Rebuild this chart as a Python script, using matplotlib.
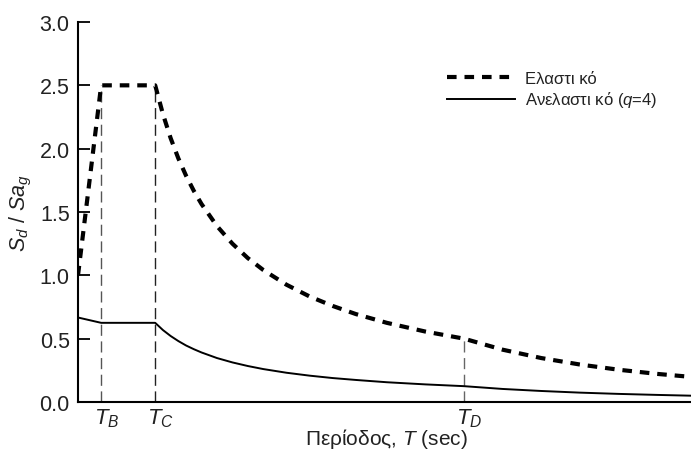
import matplotlib
matplotlib.use('Agg')
import matplotlib.pyplot as plt

# --- data (period in sec, spectral ratio) ---
T_elastic = [0.0, 0.15, 0.5, 0.55, 0.6, 0.65, 0.7, 0.75, 0.8, 0.9, 1.0, 1.1, 1.2,
             1.35, 1.5, 1.65, 1.8, 2.0, 2.25, 2.5, 2.75, 3.0, 3.25, 3.5, 3.75, 4.0]
sd_elastic = [1.0, 2.5, 2.5, 2.273, 2.083, 1.923, 1.786, 1.667, 1.563, 1.389, 1.25,
              1.136, 1.042, 0.926, 0.833, 0.758, 0.694, 0.625, 0.556, 0.5, 0.413,
              0.347, 0.296, 0.255, 0.222, 0.195]

T_inelastic = T_elastic
sd_inelastic = [0.667, 0.625, 0.625, 0.568, 0.521, 0.481, 0.446, 0.417, 0.391, 0.347,
                0.3125, 0.284, 0.260, 0.231, 0.208, 0.189, 0.174, 0.156, 0.139, 0.125,
                0.103, 0.087, 0.074, 0.064, 0.056, 0.049]

# characteristic periods and the heights of their guide lines
T_marks = [0.15, 0.5, 2.5]
mark_tops = [2.5, 2.5, 0.5]
mark_labels = [r'$T_B$', r'$T_C$', r'$T_D$']
mark_colors = ['#555555', '#222222', '#666666']

y_ticks = [0.0, 0.5, 1.0, 1.5, 2.0, 2.5, 3.0]

plt.rcParams['font.family'] = ['Liberation Sans', 'DejaVu Sans']
plt.rcParams['mathtext.fontset'] = 'custom'
plt.rcParams['mathtext.rm'] = 'Liberation Sans'
plt.rcParams['mathtext.it'] = 'Liberation Sans:italic'

txt = '#222222'

fig = plt.figure(figsize=(6.91, 4.52), dpi=100)
ax = fig.add_axes([78 / 691, 1 - 403 / 452, 613 / 691, 380 / 452])

# guide lines at T_B, T_C, T_D
for t, top, c in zip(T_marks, mark_tops, mark_colors):
    ax.plot([t, t], [0, top], color=c, lw=1.0, dashes=(8, 4), zorder=1)

ax.plot(T_elastic, sd_elastic, color='black', lw=3.0, dashes=(2.3, 1.9),
        label='Ελαστι κό', zorder=3)
ax.plot(T_inelastic, sd_inelastic, color='black', lw=1.4,
        label=r'Ανελαστι κό ($q$=4)', zorder=3)

ax.set_xlim(0, 3.97)
ax.set_ylim(0, 3.0)

ax.spines['top'].set_visible(False)
ax.spines['right'].set_visible(False)
ax.spines['left'].set_linewidth(1.5)
ax.spines['bottom'].set_linewidth(1.5)

ax.set_yticks(y_ticks)
ax.set_yticklabels([f'{v:.1f}' for v in y_ticks])
ax.tick_params(axis='y', direction='in', length=8.5, width=1.3, pad=6,
               labelsize=15.5, labelcolor=txt)

# period labels sit just right of their guide lines
ax.set_xticks([])
for t, lab in zip(T_marks, mark_labels):
    ax.annotate(lab, xy=(t, 0), xycoords=('data', 'axes fraction'),
                xytext=(3.8, -3), textcoords='offset points',
                ha='center', va='top', fontsize=16, color=txt)

fig.text(387 / 691, 1 - 445 / 452, r'Περίοδος, $T$ (sec)', fontsize=15,
         color=txt, ha='center', va='baseline')
ax.set_ylabel(r'$S_d$ / $Sa_g$', fontsize=15.5, color=txt, labelpad=4)

leg = ax.legend(loc='upper left', bbox_to_anchor=(0.602, 0.871), frameon=False,
                fontsize=12, handlelength=4.1, handletextpad=0.55,
                labelspacing=0.2, borderaxespad=0, borderpad=0)
for t in leg.get_texts():
    t.set_color(txt)

fig.savefig('out.png', dpi=100)
